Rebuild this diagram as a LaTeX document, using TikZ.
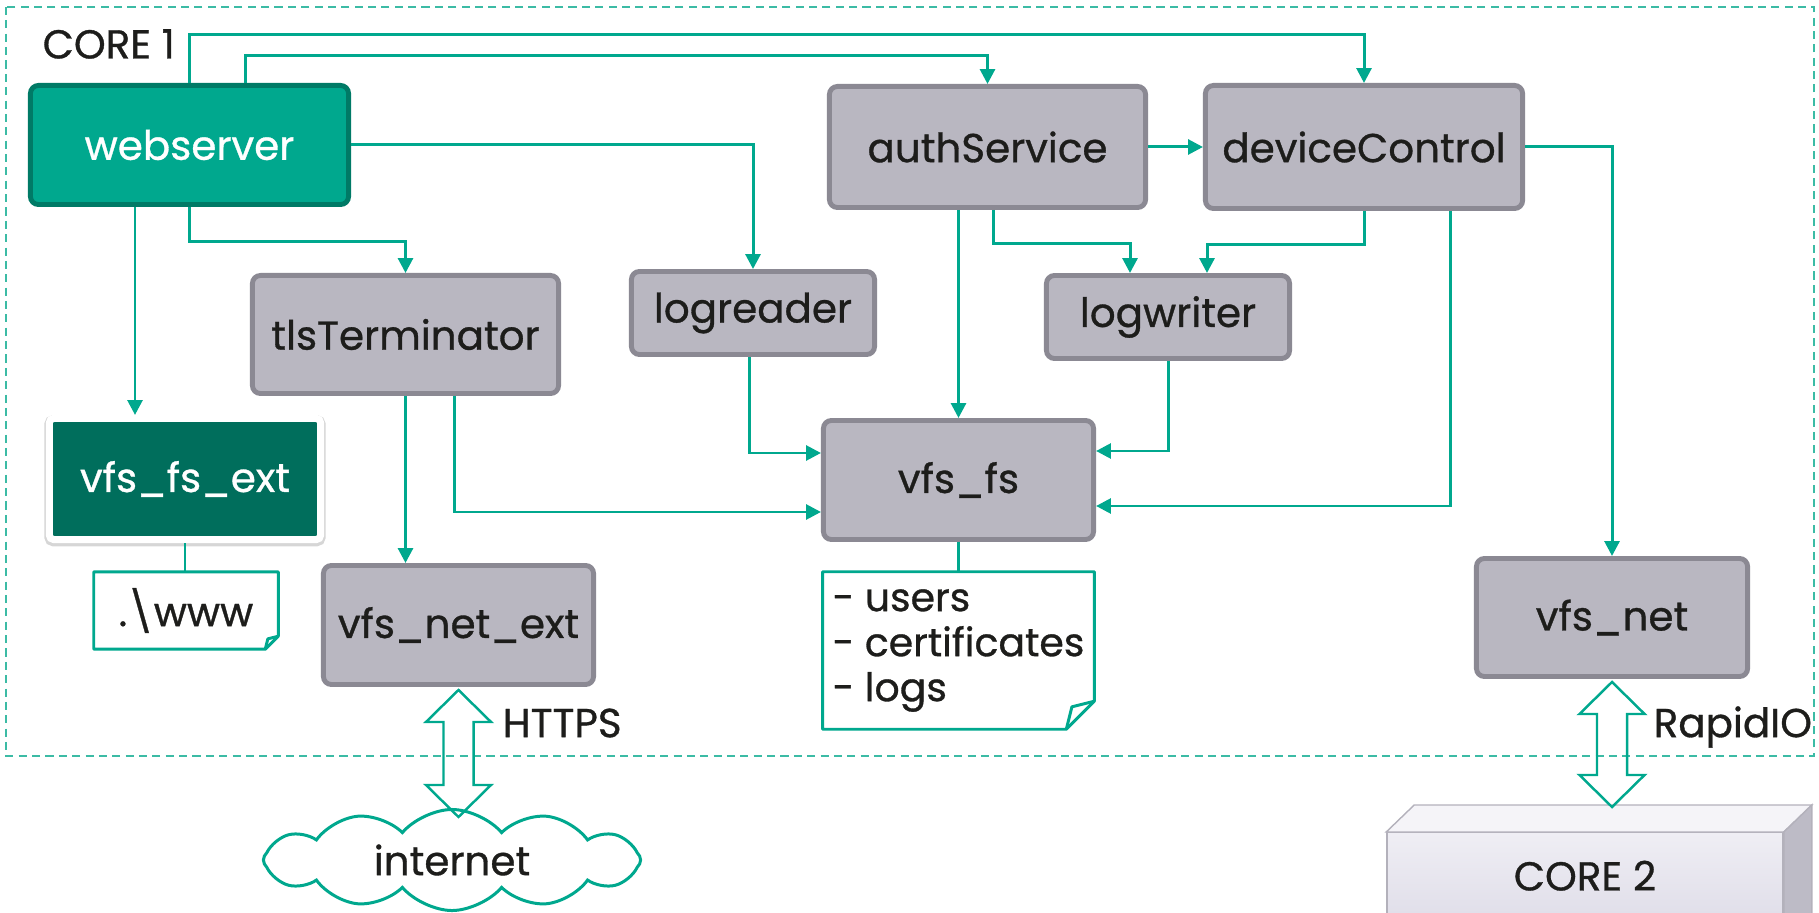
\documentclass[tikz,border=0pt]{standalone}
\usepackage{fontspec}
\setmainfont{Poppins}[FakeBold=0.8]
\usetikzlibrary{
  arrows.meta,
  calc,
  shapes.symbols,
  shadows
}

\definecolor{kgreen}{HTML}{00A88E}
\definecolor{kgreendark}{HTML}{007A66}
\definecolor{extdark}{HTML}{006E5C}
\definecolor{boxgray}{HTML}{B9B7C1}
\definecolor{boxedge}{HTML}{8B8993}
\definecolor{framegreen}{HTML}{3CBBA5}
\definecolor{ink}{HTML}{1D1D1B}
\definecolor{chiplight}{HTML}{EFEEF4}
\definecolor{chipmid}{HTML}{E0DEE9}
\definecolor{chiptopc}{HTML}{F5F4F8}
\definecolor{chipsidec}{HTML}{BDBBC6}
\definecolor{chipedge}{HTML}{B3B1BB}

\tikzset{
  link/.style={draw=kgreen, line width=0.85pt, -{Triangle[length=4.2pt,width=4.2pt]}},
  tie/.style={draw=kgreen, line width=0.6pt},
  memoline/.style={draw=kgreen, line width=0.85pt, line join=round},
  proc/.style={draw=boxedge, fill=boxgray, line width=1.4pt, rounded corners=2.3pt,
    text=ink, inner sep=0pt},
  core/.style={proc, draw=kgreendark, fill=kgreen, text=white},
  extfs/.style={draw=white, fill=extdark, line width=2pt, rounded corners=1.2pt,
    text=white, inner sep=0pt,
    preaction={draw=black!16, line width=2.9pt, transform canvas={yshift=-0.5pt}}},
  memo/.style={inner sep=0pt, text=ink},
  linktext/.style={inner sep=0pt, text=ink},
  bidir/.style={draw=kgreen, line width=0.7pt, line join=miter},
  frame/.style={draw=framegreen, line width=0.45pt, dash pattern=on 2.3pt off 1.5pt},
  chip/.style={top color=chiplight, bottom color=chipmid, draw=chipedge,
    line width=0.4pt, text=ink, inner sep=0pt}
}

% outline of a note with a folded corner
\newcommand\dogear[2]{%
  \draw[memoline] (#1.north west) -- (#1.north east) -- ([shift={(0,-#2)}]#1.south east)
    -- ([shift={(-#2,0)}]#1.south east) -- (#1.south west) -- cycle;
  \draw[memoline] ([shift={(-#2,0)}]#1.south east) -- ([shift={({-0.8*#2},{-0.8*#2})}]#1.south east)
    -- ([shift={(0,-#2)}]#1.south east);}

% hollow two-headed arrow between two points
\newcommand\bilink[2]{%
  \draw[bidir] let \p1=(#1), \p2=(#2) in
    (\x1,\y1) -- (\x1+9.25pt,\y1-9.1pt) -- (\x1+4.27pt,\y1-9.1pt)
    -- (\x1+4.27pt,\y2+9.1pt) -- (\x1+9.25pt,\y2+9.1pt) -- (\x1,\y2)
    -- (\x1-9.25pt,\y2+9.1pt) -- (\x1-4.27pt,\y2+9.1pt)
    -- (\x1-4.27pt,\y1-9.1pt) -- (\x1-9.25pt,\y1-9.1pt) -- cycle;}

\begin{document}
\begin{tikzpicture}[x=0.01cm, y=-0.01cm, font=\fontsize{11.5}{12.5}\selectfont]
  \useasboundingbox (0,0) rectangle (1819,913);

  % CORE 1 frame
  \draw[frame] (6,7) rectangle (1814,756);
  \node[linktext, anchor=west] (core1) at (42,44) {CORE 1};

  % processes
  \node[core, minimum width=3.18cm, minimum height=1.19cm] (webserver) at (189.5,145) {webserver};
  \node[proc, minimum width=3.16cm, minimum height=1.21cm] (auth) at (987.5,147) {authService};
  \node[proc, minimum width=3.17cm, minimum height=1.23cm] (devctl) at (1364,147) {deviceControl};
  \node[proc, minimum width=3.06cm, minimum height=1.18cm] (tls) at (405.5,334.5) {tlsTerminator};
  \node[proc, minimum width=2.43cm, minimum height=0.83cm] (logreader) at (753,313) {logreader};
  \node[proc, minimum width=2.43cm, minimum height=0.83cm] (logwriter) at (1168,317) {logwriter};
  \node[proc, minimum width=2.70cm, minimum height=1.19cm] (vfsfs) at (958.5,480) {vfs\_fs};
  \node[proc, minimum width=2.70cm, minimum height=1.19cm] (vfsnetext) at (458.5,625) {vfs\_net\_ext};
  \node[proc, minimum width=2.71cm, minimum height=1.18cm] (vfsnet) at (1612,617.5) {vfs\_net};
  \node[extfs, minimum width=2.71cm, minimum height=1.21cm] (vfsfsext) at (185,479) {vfs\_fs\_ext};

  % notes
  \node[memo, minimum width=1.83cm, minimum height=0.76cm] (www) at (186,610.5) {.\textbackslash www};
  \dogear{www}{13}
  \node[memo, minimum width=2.70cm, minimum height=1.56cm, align=left,
    font=\fontsize{11.2}{12.8}\selectfont]
    (content) at (958.5,650.5) {\mbox{- users}\\\mbox{- certificates}\\\mbox{- logs}};
  \dogear{content}{28}

  % outside world
  \node[cloud, draw=kgreen, line width=0.85pt, cloud puffs=12, cloud puff arc=100,
    aspect=3.6, minimum width=3.77cm, minimum height=1.01cm, inner sep=0pt, text=ink]
    (internet) at (452,860) {internet};
  \node[chip, anchor=north, minimum width=3.96cm, minimum height=0.86cm] (core2) at (1585,832) {CORE 2};
  \filldraw[fill=chiptopc, draw=chipedge, line width=0.4pt] (core2.north west) -- ++(28,-27)
    -- ([shift={(28,-27)}]core2.north east) -- (core2.north east) -- cycle;
  \filldraw[fill=chipsidec, draw=chipedge, line width=0.4pt] (core2.north east) -- ++(28,-27)
    -- ++(0,160) -- ([shift={(0,60)}]core2.south east) -- cycle;

  % links
  \bilink{[shift={(0,3)}]vfsnetext.south}{[shift={(0,9)}]internet.north}
  \node[linktext, anchor=west] (https) at (502,723) {HTTPS};
  \bilink{[shift={(0,3)}]vfsnet.south}{[shift={(0,-25)}]core2.north}
  \node[linktext, anchor=west] (rapidio) at (1653,727) {RapidIO};

  % connectors
  \draw[link] (webserver.north) -- ++(0,-48) -| (devctl.north);
  \draw[link] ([shift={(56,0)}]webserver.north) -- ++(0,-27) -| (auth.north);
  \draw[link] (webserver.east) -| (logreader.north);
  \draw[link] (webserver.south) -- ++(0,35) -| (tls.north);
  \draw[link] ([shift={(-54.5,0)}]webserver.south) -- ([shift={(-54.5,0)}]webserver.south |- vfsfsext.north);
  \draw[link] (auth.east) -- (devctl.west);
  \draw[link] (auth.south -| vfsfs.north) -- (vfsfs.north);
  \draw[link] ([shift={(5.5,0)}]auth.south) -- ++(0,34) -| ([shift={(-38,0)}]logwriter.north);
  \draw[link] (devctl.south) -- ++(0,34) -| ([shift={(39,0)}]logwriter.north);
  \draw[link] ([shift={(86,0)}]devctl.south) |- ([shift={(0,26)}]vfsfs.east);
  \draw[link] (devctl.east) -| (vfsnet.north);
  \draw[link] (tls.south) -- (tls.south |- vfsnetext.north);
  \draw[link] ([shift={(48.5,0)}]tls.south) |- ([shift={(0,32)}]vfsfs.west);
  \draw[link] ([shift={(-4,0)}]logreader.south) |- ([shift={(0,-27)}]vfsfs.west);
  \draw[link] (logwriter.south) |- ([shift={(0,-29)}]vfsfs.east);
  \draw[tie] (vfsfsext.south) -- (vfsfsext.south |- www.north);
  \draw[tie] (vfsfs.south) -- (content.north);
\end{tikzpicture}
\end{document}
